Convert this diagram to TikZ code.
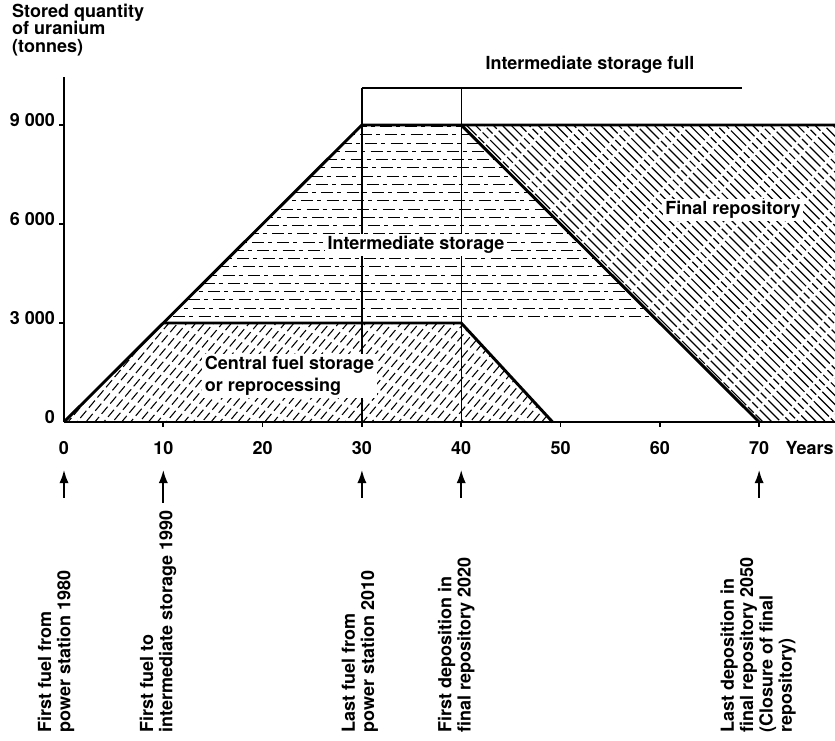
\documentclass[tikz,border=0pt]{standalone}
\usepackage{fontspec}
\setmainfont{TeX Gyre Heros}
\usetikzlibrary{arrows.meta}

\begin{document}
\begin{tikzpicture}[x=7.4475pt, y=24.75pt,
	font=\fontsize{13.5}{14.5}\selectfont\bfseries,
	outline/.style={line width=2.2pt, line join=round},
	axisline/.style={line width=1.3pt},
	hline/.style={line width=0.8pt, dash pattern=on 9pt off 3pt on 3pt off 4pt},
	dline/.style={line width=0.9pt, dash pattern=on 16pt off 2pt on 6pt off 2pt},
	eline/.style={line width=0.8pt, dash pattern=on 7pt off 3pt},
	lab/.style={fill=white, inner sep=2pt},
	vlab/.style={rotate=90, anchor=west, align=left, inner sep=0pt},
	marker/.style={line width=1.4pt, -{Latex[length=10pt,width=7pt]}}]
	\useasboundingbox (-6.445,-9.636) rectangle (77.64,12.788);

	\begin{scope}
		\clip (40,9) -- (77.64,9) -- (77.64,0) -- (70,0) -- cycle;
		\foreach \x [count=\k] in {40.5,41.4,...,78}
			\draw[dline, dash phase=\k*5pt] (\x,9) -- ++(29.9,-9);
	\end{scope}
	\begin{scope}
		\clip (10,3) -- (30,9) -- (40,9) -- (70,0) -- (49.2,0) -- (40,3) -- cycle;
		\foreach \y [count=\k] in {3.2,3.45,...,8.95}
			\draw[hline, dash phase=\k*4pt] (9,\y) -- (71,\y);
	\end{scope}
	\begin{scope}
		\clip (0,0) -- (10,3) -- (40,3) -- (49.2,0) -- cycle;
		\foreach \x [count=\k] in {0.4,1.3,...,49.2}
			\draw[eline, dash phase=\k*3pt] (\x,0) -- ++(8.37,3);
	\end{scope}

	\draw[line width=1pt] (30,10.12) -- (30,0);
	\draw[line width=1pt] (40,10.12) -- (40,0);
	\draw[line width=1.3pt] (30,10.12) -- (68.3,10.12);

	\draw[outline] (0,0) -- (30,9) -- (77.64,9);
	\draw[outline] (40,9) -- (70,0);
	\draw[outline] (10,3) -- (40,3) -- (49.2,0);
	\draw[outline] (0,0) -- (77.64,0);
	\draw[axisline] (0,0) -- (0,10.45);
	\foreach \v in {3,6,9}
		\draw[axisline] (0,\v) -- (-0.5,\v);
	\foreach \t in {10,20,...,70}
		\draw[axisline] (\t,0) -- (\t,-0.15);

	\node[anchor=north west, align=left, inner sep=0pt] (ylab) at (-5.24,12.67) {Stored quantity\\[-1.5pt]of uranium\\[-1.5pt](tonnes)};
	\foreach \v/\s in {0/0, 3/3 000, 6/6 000, 9/9 000}
		\node[anchor=east, inner sep=0pt] (y\v) at (-0.9,\v+0.15) {\s};
	\foreach \t in {0,10,...,70}
		\node (x\t) at (\t,-0.79) {\t};
	\node[anchor=west] (years) at (72.2,-0.79) {Years};

	\node[lab] (full) at (52.97,10.82) {Intermediate storage full};
	\node[lab] (inter) at (35.45,5.36) {Intermediate storage};
	\node[lab] (final) at (67.37,6.42) {Final repository};
	\node[lab, anchor=west, align=left] (central) at (13.9,1.39) {Central fuel storage\\[2pt]or reprocessing};

	\foreach \t/\b in {0/-2.3, 10/-2.45, 30/-2.3, 40/-2.3, 70/-2.3} {
		\coordinate (tail\t) at (\t,\b);
		\coordinate (tip\t) at (\t,-1.45);
		\draw[marker] (tail\t) -- (tip\t);
	}

	\node[vlab] (ev0) at (-0.8,-9.42) {First fuel from\\power station 1980};
	\node[vlab] (ev10) at (9.47,-9.42) {First fuel to\\intermediate storage 1990};
	\node[vlab] (ev30) at (29.8,-9.42) {Last fuel from\\power station 2010};
	\node[vlab] (ev40) at (39.5,-9.42) {First deposition in\\final repository 2020};
	\node[vlab] (ev70) at (69.9,-9.42) {Last deposition in\\final repository 2050\\(Closure of final\\repository)};
\end{tikzpicture}
\end{document}
